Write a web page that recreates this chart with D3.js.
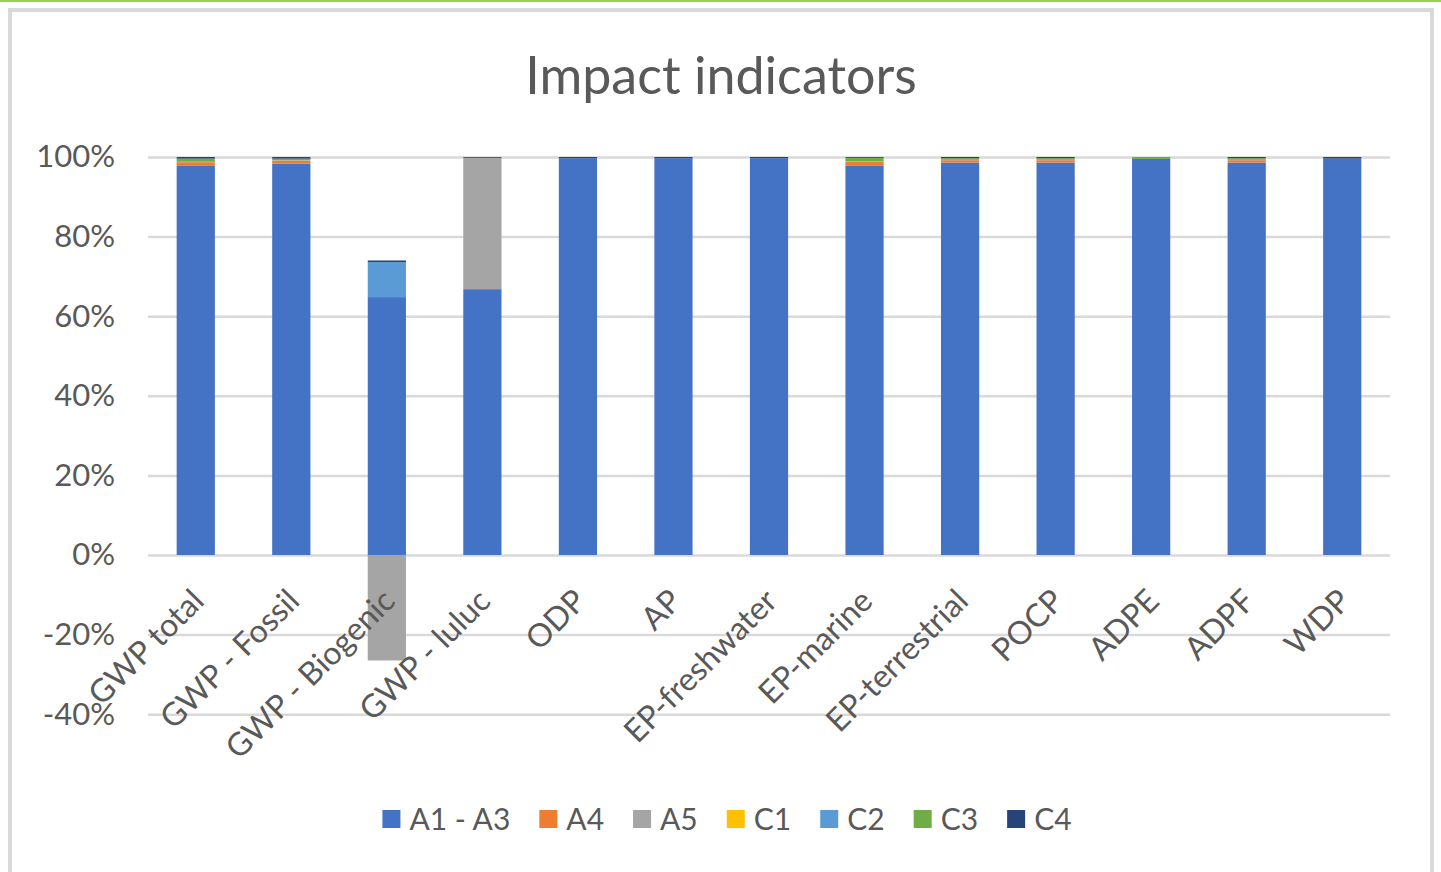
<!DOCTYPE html>
<html>
<head>
<meta charset="utf-8">
<script src="https://cdn.jsdelivr.net/npm/d3@7"></script>
<style>
  body { margin: 0; background: #fff; }
  svg { display: block; font-family: Lato, "Noto Sans", sans-serif; }
</style>
</head>
<body>
<svg id="chart" width="1441" height="872"></svg>
<script>
// Data (percent of total per indicator)
const categories = ['GWP total', 'GWP - Fossil', 'GWP - Biogenic', 'GWP - luluc', 'ODP', 'AP',
  'EP-freshwater', 'EP-marine', 'EP-terrestrial', 'POCP', 'ADPE', 'ADPF', 'WDP'];
const seriesNames = ['A1 - A3', 'A4', 'A5', 'C1', 'C2', 'C3', 'C4'];
const a1a3 = [97.9, 98.3, 64.8, 66.8, 99.7, 99.7, 99.7, 97.9, 98.6, 98.6, 99.5, 98.6, 99.6];
const a4   = [0.8, 0.8, 0, 0, 0, 0, 0, 0.9, 0.6, 0.6, 0, 0.6, 0];
const a5   = [0.1, 0.1, -26.5, 33.0, 0, 0, 0, 0.1, 0.1, 0.1, 0, 0.1, 0];
const c1   = [0, 0, 0, 0, 0, 0, 0, 0, 0, 0, 0, 0, 0];
const c2   = [0, 0, 8.8, 0, 0, 0, 0, 0, 0, 0, 0, 0, 0];
const c3   = [0.8, 0.4, 0, 0, 0, 0, 0, 0.9, 0.4, 0.4, 0.5, 0.4, 0];
const c4   = [0.4, 0.4, 0.4, 0.2, 0.3, 0.3, 0.3, 0.2, 0.3, 0.3, 0, 0.3, 0.4];
const yTicks = [-40, -20, 0, 20, 40, 60, 80, 100];
const colors = ['#4472c4', '#ed7d31', '#a5a5a5', '#ffc000', '#5b9bd5', '#70ad47', '#264478'];

const seriesValues = [a1a3, a4, a5, c1, c2, c3, c4];
const rows = categories.map((name, i) => {
  const row = { name };
  seriesNames.forEach((s, j) => { row[s] = seriesValues[j][i]; });
  return row;
});

const svg = d3.select('#chart');
const textColor = '#595959';
const gridColor = '#d9d9d9';

// top green rule and chart frame
svg.append('rect').attr('x', 0).attr('y', 0).attr('width', 1441).attr('height', 2).attr('fill', '#92d050');
svg.append('rect')
  .attr('x', 10).attr('y', 10).attr('width', 1422).attr('height', 880)
  .attr('fill', '#fff').attr('stroke', gridColor).attr('stroke-width', 4);

const plot = { left: 148, right: 1390, top: 157, zero: 555 };

const x = d3.scaleBand()
  .domain(categories)
  .range([plot.left, plot.right])
  .paddingInner(0.6)
  .paddingOuter(0.3);

const y = d3.scaleLinear()
  .domain([0, 100])
  .range([plot.zero, plot.top]);

// Title
svg.append('text')
  .attr('x', 721).attr('y', 94)
  .attr('text-anchor', 'middle')
  .attr('fill', textColor)
  .attr('font-size', 52)
  .text('Impact indicators');

// Gridlines + y labels
const yAxis = d3.axisLeft(y)
  .tickValues(yTicks)
  .tickFormat(d => d + '%')
  .tickSize(-(plot.right - plot.left))
  .tickPadding(33);

const gAxis = svg.append('g')
  .attr('transform', `translate(${plot.left},0)`)
  .call(yAxis);
gAxis.select('.domain').remove();
gAxis.selectAll('line').attr('stroke', gridColor).attr('stroke-width', 2.5);
gAxis.selectAll('text')
  .attr('fill', textColor)
  .attr('font-size', 31)
  .attr('font-family', 'Lato, "Noto Sans", sans-serif');

// Stacked bars
const stack = d3.stack()
  .keys(seriesNames)
  .offset(d3.stackOffsetDiverging);
const layers = stack(rows);

svg.append('g')
  .selectAll('g')
  .data(layers)
  .join('g')
  .attr('fill', (d, i) => colors[i])
  .selectAll('rect')
  .data(d => d.filter(p => p[1] !== p[0]))
  .join('rect')
  .attr('x', d => x(d.data.name))
  .attr('width', x.bandwidth())
  .attr('y', d => y(Math.max(d[0], d[1])))
  .attr('height', d => Math.abs(y(d[0]) - y(d[1])));

// Category labels, rotated
svg.append('g')
  .selectAll('text')
  .data(categories)
  .join('text')
  .attr('transform', d => `translate(${x(d) + x.bandwidth() / 2 + 10},603) rotate(-45)`)
  .attr('text-anchor', 'end')
  .attr('fill', textColor)
  .attr('font-size', 32)
  .text(d => d);

// Legend
const legend = svg.append('g');
const items = legend.selectAll('g')
  .data(seriesNames)
  .join('g');
items.append('rect')
  .attr('width', 18).attr('height', 18)
  .attr('y', 810)
  .attr('fill', (d, i) => colors[i]);
items.append('text')
  .attr('x', 27).attr('y', 830)
  .attr('fill', textColor)
  .attr('font-size', 30)
  .text(d => d);

let offset = 0;
const starts = [];
items.each(function () {
  starts.push(offset);
  offset += 27 + this.querySelector('text').getComputedTextLength() + 29;
});
const totalW = offset - 29;
const legendLeft = 727 - totalW / 2;
items.attr('transform', (d, i) => `translate(${legendLeft + starts[i]},0)`);
</script>
</body>
</html>
